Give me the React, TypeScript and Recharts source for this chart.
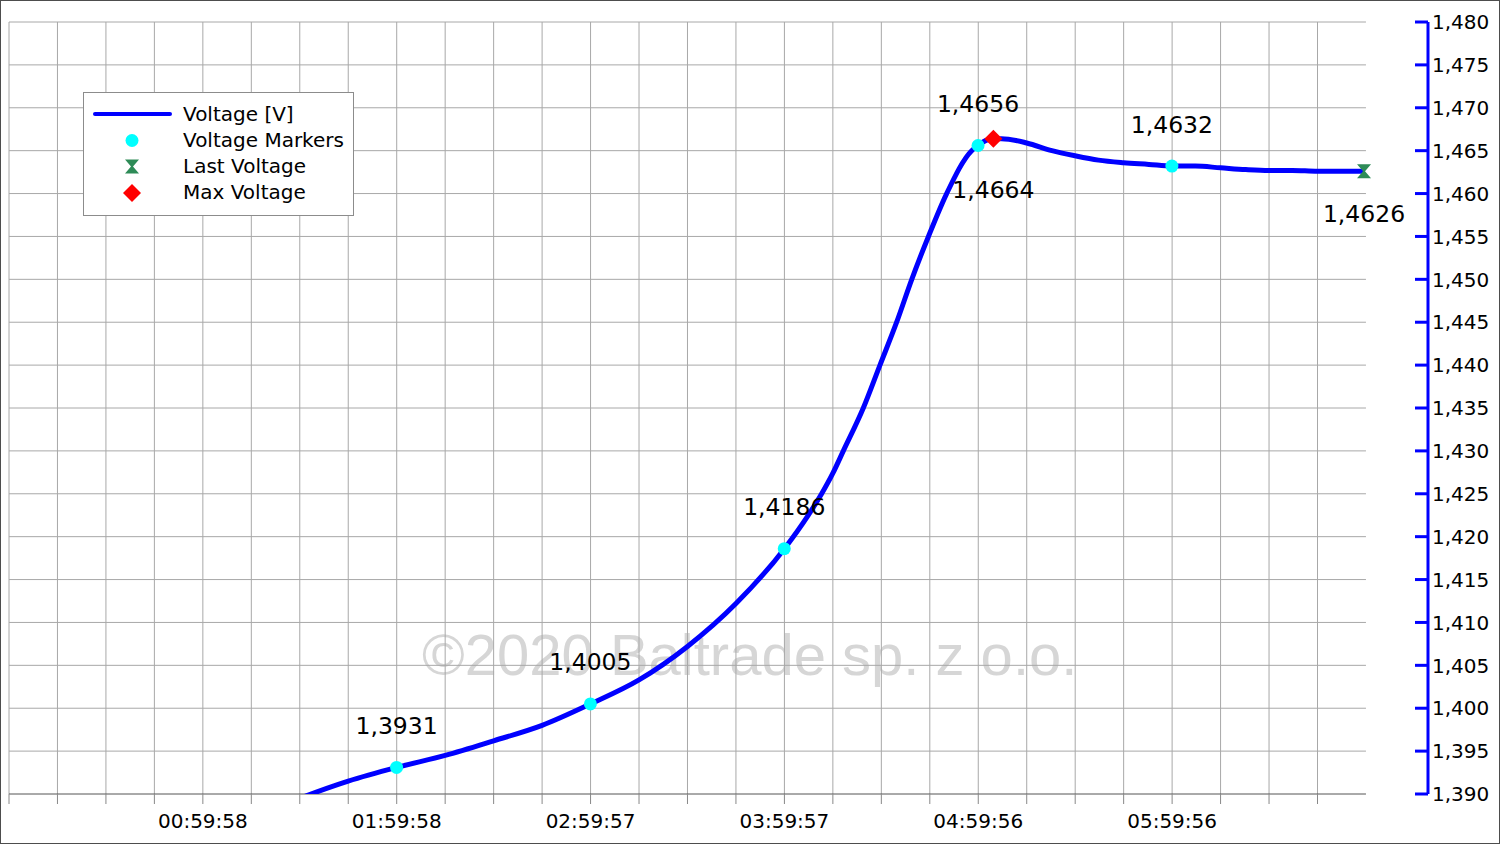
import React from 'react';
import { LineChart, Line, XAxis, YAxis, CartesianGrid, ReferenceLine, ReferenceDot } from 'recharts';

// ---- data (time in hours, voltage in V) ----
const TIME_H = [0.0, 0.5, 1.0, 1.25, 1.5, 1.75, 2.0, 2.25, 2.5, 2.75, 3.0, 3.25, 3.5, 3.75, 4.0, 4.12, 4.192, 4.25, 4.304, 4.407, 4.493, 4.579, 4.657, 4.743, 4.837, 4.966, 5.0, 5.04, 5.08, 5.12, 5.25, 5.38, 5.5, 5.62, 5.75, 5.88, 6.0, 6.12, 6.25, 6.38, 6.5, 6.62, 6.75, 6.88, 6.99];
const VOLTAGE = [1.373, 1.3795, 1.385, 1.3872, 1.3895, 1.3915, 1.3931, 1.3945, 1.3962, 1.398, 1.4005, 1.4033, 1.4072, 1.4122, 1.4186, 1.4224, 1.425, 1.4274, 1.43, 1.435, 1.44, 1.445, 1.45, 1.455, 1.46, 1.465, 1.4656, 1.4662, 1.4664, 1.4664, 1.4659, 1.465, 1.4644, 1.4639, 1.4636, 1.4634, 1.4632, 1.4632, 1.463, 1.4628, 1.4627, 1.4627, 1.4626, 1.4626, 1.4626];

const MARKER_TIME = [1.9994, 2.9992, 3.9992, 4.9989, 5.9989];
const MARKER_VALUE = [1.3931, 1.4005, 1.4186, 1.4656, 1.4632];
const MAX_TIME = 5.078;
const MAX_VALUE = 1.4664;
const LAST_TIME = 6.99;
const LAST_VALUE = 1.4626;

const X_TICKS = [0, 0.25, 0.5, 0.75, 1, 1.25, 1.5, 1.75, 2, 2.25, 2.5, 2.75, 3, 3.25, 3.5, 3.75, 4, 4.25, 4.5, 4.75, 5, 5.25, 5.5, 5.75, 6, 6.25, 6.5, 6.75];
const X_LABEL_HOURS = [1, 2, 3, 4, 5, 6];
const X_LABEL_TEXT = ['00:59:58', '01:59:58', '02:59:57', '03:59:57', '04:59:56', '05:59:56'];
const X_AXIS_END = 7.0;
const X_DOMAIN_MAX = 7.32;

const Y_TICKS = [1.39, 1.395, 1.4, 1.405, 1.41, 1.415, 1.42, 1.425, 1.43, 1.435, 1.44, 1.445, 1.45, 1.455, 1.46, 1.465, 1.47, 1.475, 1.48];

const LEGEND_LABELS = ['Voltage [V]', 'Voltage Markers', 'Last Voltage', 'Max Voltage'];
const WATERMARK = '©2020 Baltrade sp. z o.o.';

const rows = TIME_H.map((t, i) => ({ t, v: VOLTAGE[i] }));

const FONT = '"DejaVu Sans", Verdana, sans-serif';
const GRID = '#a8a8a8';
const BLUE = '#0000ff';
const CYAN = '#00ffff';
const GREEN = '#2e8b57';
const RED = '#ff0000';

const fmt3 = (v: number) => v.toFixed(3).replace('.', ',');
const fmt4 = (v: number) => v.toFixed(4).replace('.', ',');

const xLabel = (v: number) => {
  const i = X_LABEL_HOURS.findIndex((h) => Math.abs(h - v) < 1e-6);
  return i >= 0 ? X_LABEL_TEXT[i] : '';
};

const YTick = (props: any) => {
  const { x, y, payload } = props;
  return (
    <g>
      <line x1={x - 13} x2={x} y1={y} y2={y} stroke={BLUE} strokeWidth={3} />
      <text x={x + 4} y={y} dy="0.36em" fontSize={20} fontFamily={FONT} fill="#000" textAnchor="start">
        {fmt3(payload.value)}
      </text>
    </g>
  );
};

const Diamond = (p: any) => {
  const { cx, cy } = p;
  const s = 9;
  return <path d={`M${cx},${cy - s} L${cx + s},${cy} L${cx},${cy + s} L${cx - s},${cy} Z`} fill={RED} />;
};

const Hourglass = (p: any) => {
  const { cx, cy } = p;
  const s = 7;
  return (
    <path
      d={`M${cx - s},${cy - s} L${cx + s},${cy - s} L${cx + 1},${cy} L${cx + s},${cy + s} L${cx - s},${cy + s} L${cx - 1},${cy} Z`}
      fill={GREEN}
    />
  );
};

const labelStyle = { fontSize: 23.5, fontFamily: FONT, fill: '#000' };

export default function App() {
  return (
    <div style={{ position: 'absolute', left: 0, top: 0, width: 1500, height: 844, background: '#fff', overflow: 'hidden' }}>
      <div
        style={{
          position: 'absolute',
          left: 422,
          top: 626,
          fontFamily: '"Liberation Sans", Arial, sans-serif',
          fontSize: 58,
          lineHeight: '58px',
          color: '#d6d6d6',
          whiteSpace: 'nowrap',
        }}
      >
        {WATERMARK}
      </div>
      <div style={{ position: 'absolute', left: 0, top: 0 }}>
        <LineChart width={1500} height={844} data={rows} margin={{ top: 22, left: 9, right: 0, bottom: 0 }}>
          <CartesianGrid horizontal={false} vertical={true} stroke={GRID} strokeWidth={1} />
          <XAxis
            dataKey="t"
            type="number"
            domain={[0, X_DOMAIN_MAX]}
            ticks={X_TICKS}
            interval={0}
            height={50}
            axisLine={false}
            tickLine={{ stroke: '#888' }}
            tickSize={10}
            tickMargin={10}
            tickFormatter={xLabel}
            tick={{ fontSize: 20, fontFamily: FONT, fill: '#000' }}
          />
          <YAxis
            orientation="right"
            type="number"
            domain={[1.39, 1.48]}
            ticks={Y_TICKS}
            interval={0}
            allowDataOverflow
            width={72}
            axisLine={{ stroke: BLUE, strokeWidth: 3 }}
            tickLine={false}
            tickSize={0}
            tickMargin={0}
            tick={<YTick />}
          />
          {Y_TICKS.map((v) => (
            <ReferenceLine
              key={v}
              segment={[{ x: 0, y: v }, { x: X_AXIS_END, y: v }]}
              stroke={v === Y_TICKS[0] ? '#555' : GRID}
              strokeWidth={1}
              ifOverflow="visible"
            />
          ))}
          <Line
            type="monotone"
            dataKey="v"
            stroke={BLUE}
            strokeWidth={5}
            dot={false}
            activeDot={false}
            isAnimationActive={false}
          />
          {MARKER_TIME.map((t, i) => (
            <ReferenceDot
              key={t}
              x={t}
              y={MARKER_VALUE[i]}
              r={6.5}
              fill={CYAN}
              stroke="none"
              label={{ value: fmt4(MARKER_VALUE[i]), position: 'top', offset: 27, ...labelStyle }}
            />
          ))}
          <ReferenceDot
            x={MAX_TIME}
            y={MAX_VALUE}
            r={9}
            shape={<Diamond />}
            label={{ value: fmt4(MAX_VALUE), position: 'bottom', offset: 34, ...labelStyle }}
          />
          <ReferenceDot
            x={LAST_TIME}
            y={LAST_VALUE}
            r={7}
            shape={<Hourglass />}
            label={{ value: fmt4(LAST_VALUE), position: 'bottom', offset: 27, ...labelStyle }}
          />
        </LineChart>
      </div>
      <svg style={{ position: 'absolute', left: 83, top: 92 }} width={271} height={124}>
        <rect x={0.5} y={0.5} width={270} height={123} fill="#fff" stroke="#8c8c8c" strokeWidth={1} />
        <line x1={12} x2={87} y1={22} y2={22} stroke={BLUE} strokeWidth={4} strokeLinecap="round" />
        <circle cx={49} cy={48.5} r={6.5} fill={CYAN} />
        <Hourglass cx={49} cy={74.5} />
        <Diamond cx={49} cy={101} />
        {LEGEND_LABELS.map((s, i) => (
          <text key={s} x={100} y={28.7 + i * 26.2} fontSize={20} fontFamily={FONT} fill="#000">
            {s}
          </text>
        ))}
      </svg>
      <div
        style={{
          position: 'absolute',
          left: 0,
          top: 0,
          width: 1500,
          height: 844,
          boxSizing: 'border-box',
          border: '1px solid #4d4d4d',
          pointerEvents: 'none',
        }}
      />
    </div>
  );
}
